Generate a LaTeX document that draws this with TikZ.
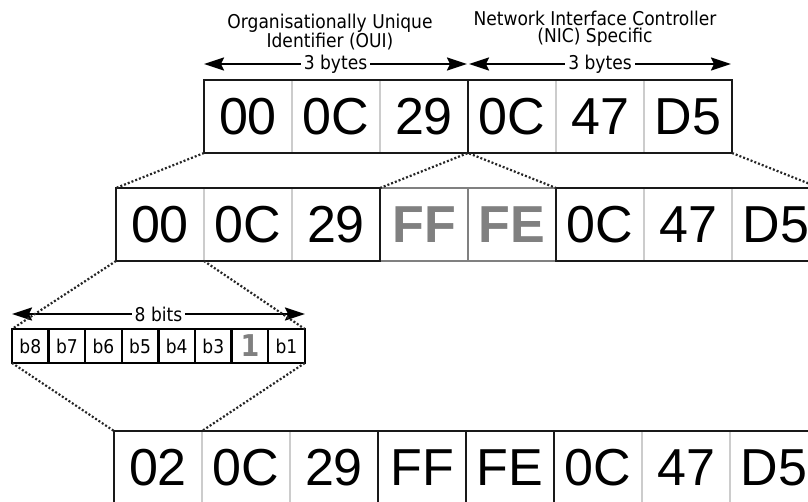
\documentclass[tikz,border=0pt]{standalone}
\usepackage{fontspec}
\setmainfont{Liberation Sans}
\newfontfamily\labelfont[FakeStretch=0.9]{DejaVu Sans}
\usetikzlibrary{arrows.meta}
\definecolor{divgray}{HTML}{CCCCCC}
\definecolor{hexgray}{HTML}{808080}
\tikzset{
  cell/.style={minimum width=88pt,minimum height=73pt,inner sep=0pt,outer sep=0pt,
    draw=divgray,line width=1.5pt,font=\fontsize{52}{52}\selectfont},
  filler/.style={draw=hexgray,text=hexgray,font=\fontsize{52}{52}\selectfont\bfseries},
  bitcell/.style={minimum width=36.6pt,minimum height=34pt,inner sep=0pt,outer sep=0pt,
    draw=black,line width=2.4pt,font=\labelfont\fontsize{19}{19}\selectfont},
  grp/.style={draw=black!90,line width=2.2pt},
  zoomline/.style={draw=black!85,line width=2.2pt,dash pattern=on 2pt off 2pt},
  span/.style={line width=2pt,{Stealth[length=20pt,width=13pt,inset=3pt]}-{Stealth[length=20pt,width=13pt,inset=3pt]}},
  spanlabel/.style={fill=white,inner sep=3pt,font=\labelfont\fontsize{19}{19}\selectfont},
  head/.style={align=center,inner sep=0pt,font=\labelfont\fontsize{19}{16.5}\selectfont}
}
\begin{document}
\begin{tikzpicture}[x=1pt,y=-1pt]
\clip (0,0) rectangle (808,502);
% MAC address
\node[head] (oui) at (330,32) {Organisationally Unique\\Identifier (OUI)};
\node[head] (nic) at (595,29) {Network Interface Controller\\(NIC) Specific};
\coordinate (ouiL) at (204,64);
\coordinate (ouiR) at (467,64);
\coordinate (nicL) at (469,64);
\coordinate (nicR) at (731,64);
\draw[span] (ouiL) -- node[spanlabel] (ouibytes) {3 bytes} (ouiR);
\draw[span] (nicL) -- node[spanlabel] (nicbytes) {3 bytes} (nicR);
\foreach \x/\v in {1/00,2/0C,3/29,4/0C,5/47,6/D5} \node[cell] (mac\x) at (160+88*\x,116.5) {\v};
\draw[grp] (mac1.north west) rectangle (mac3.south east);
\draw[grp] (mac4.north west) rectangle (mac6.south east);
% EUI-64 with FF FE
\foreach \x/\v in {1/00,2/0C,3/29,6/0C,7/47,8/D5} \node[cell] (eui\x) at (72+88*\x,224.5) {\v};
\foreach \x/\v in {4/FF,5/FE} \node[cell,filler] (eui\x) at (72+88*\x,224.5) {\v};
\draw[grp,draw=hexgray] (eui4.north west) rectangle (eui5.south east);
\draw[grp] (eui1.north west) rectangle (eui3.south east);
\draw[grp] (eui6.north west) rectangle (eui8.south east);
\draw[zoomline] (mac1.south west) -- (eui1.north west);
\draw[zoomline] (eui4.north west) -- (mac3.south east) -- (eui5.north east);
\draw[zoomline] (mac6.south east) -- (eui8.north east);
% bits of first byte
\foreach \x/\v in {1/b8,2/b7,3/b6,4/b5,5/b4,6/b3,8/b1} \node[bitcell] (bit\x) at (-6.3+36.6*\x,346) {\v};
\node[bitcell,text=hexgray,font=\labelfont\bfseries\fontsize{30}{30}\selectfont] (bit7) at (-6.3+36.6*7,346) {1};
\coordinate (bitsL) at (12,314);
\coordinate (bitsR) at (305,314);
\draw[span] (bitsL) -- node[spanlabel] (bitcount) {8 bits} (bitsR);
\draw[zoomline] (eui1.south west) -- (bit1.north west);
\draw[zoomline] (eui1.south east) -- (bit8.north east);
% modified EUI-64
\foreach \x/\v in {1/02,2/0C,3/29,4/FF,5/FE,6/0C,7/47,8/D5} \node[cell] (mod\x) at (70+88*\x,467.5) {\v};
\draw[grp] (mod1.north west) rectangle (mod3.south east);
\draw[grp] (mod4.north west) rectangle (mod4.south east);
\draw[grp] (mod5.north west) rectangle (mod5.south east);
\draw[grp] (mod6.north west) rectangle (mod8.south east);
\draw[zoomline] (bit1.south west) -- (mod1.north west);
\draw[zoomline] (bit8.south east) -- (mod1.north east);
\end{tikzpicture}
\end{document}
